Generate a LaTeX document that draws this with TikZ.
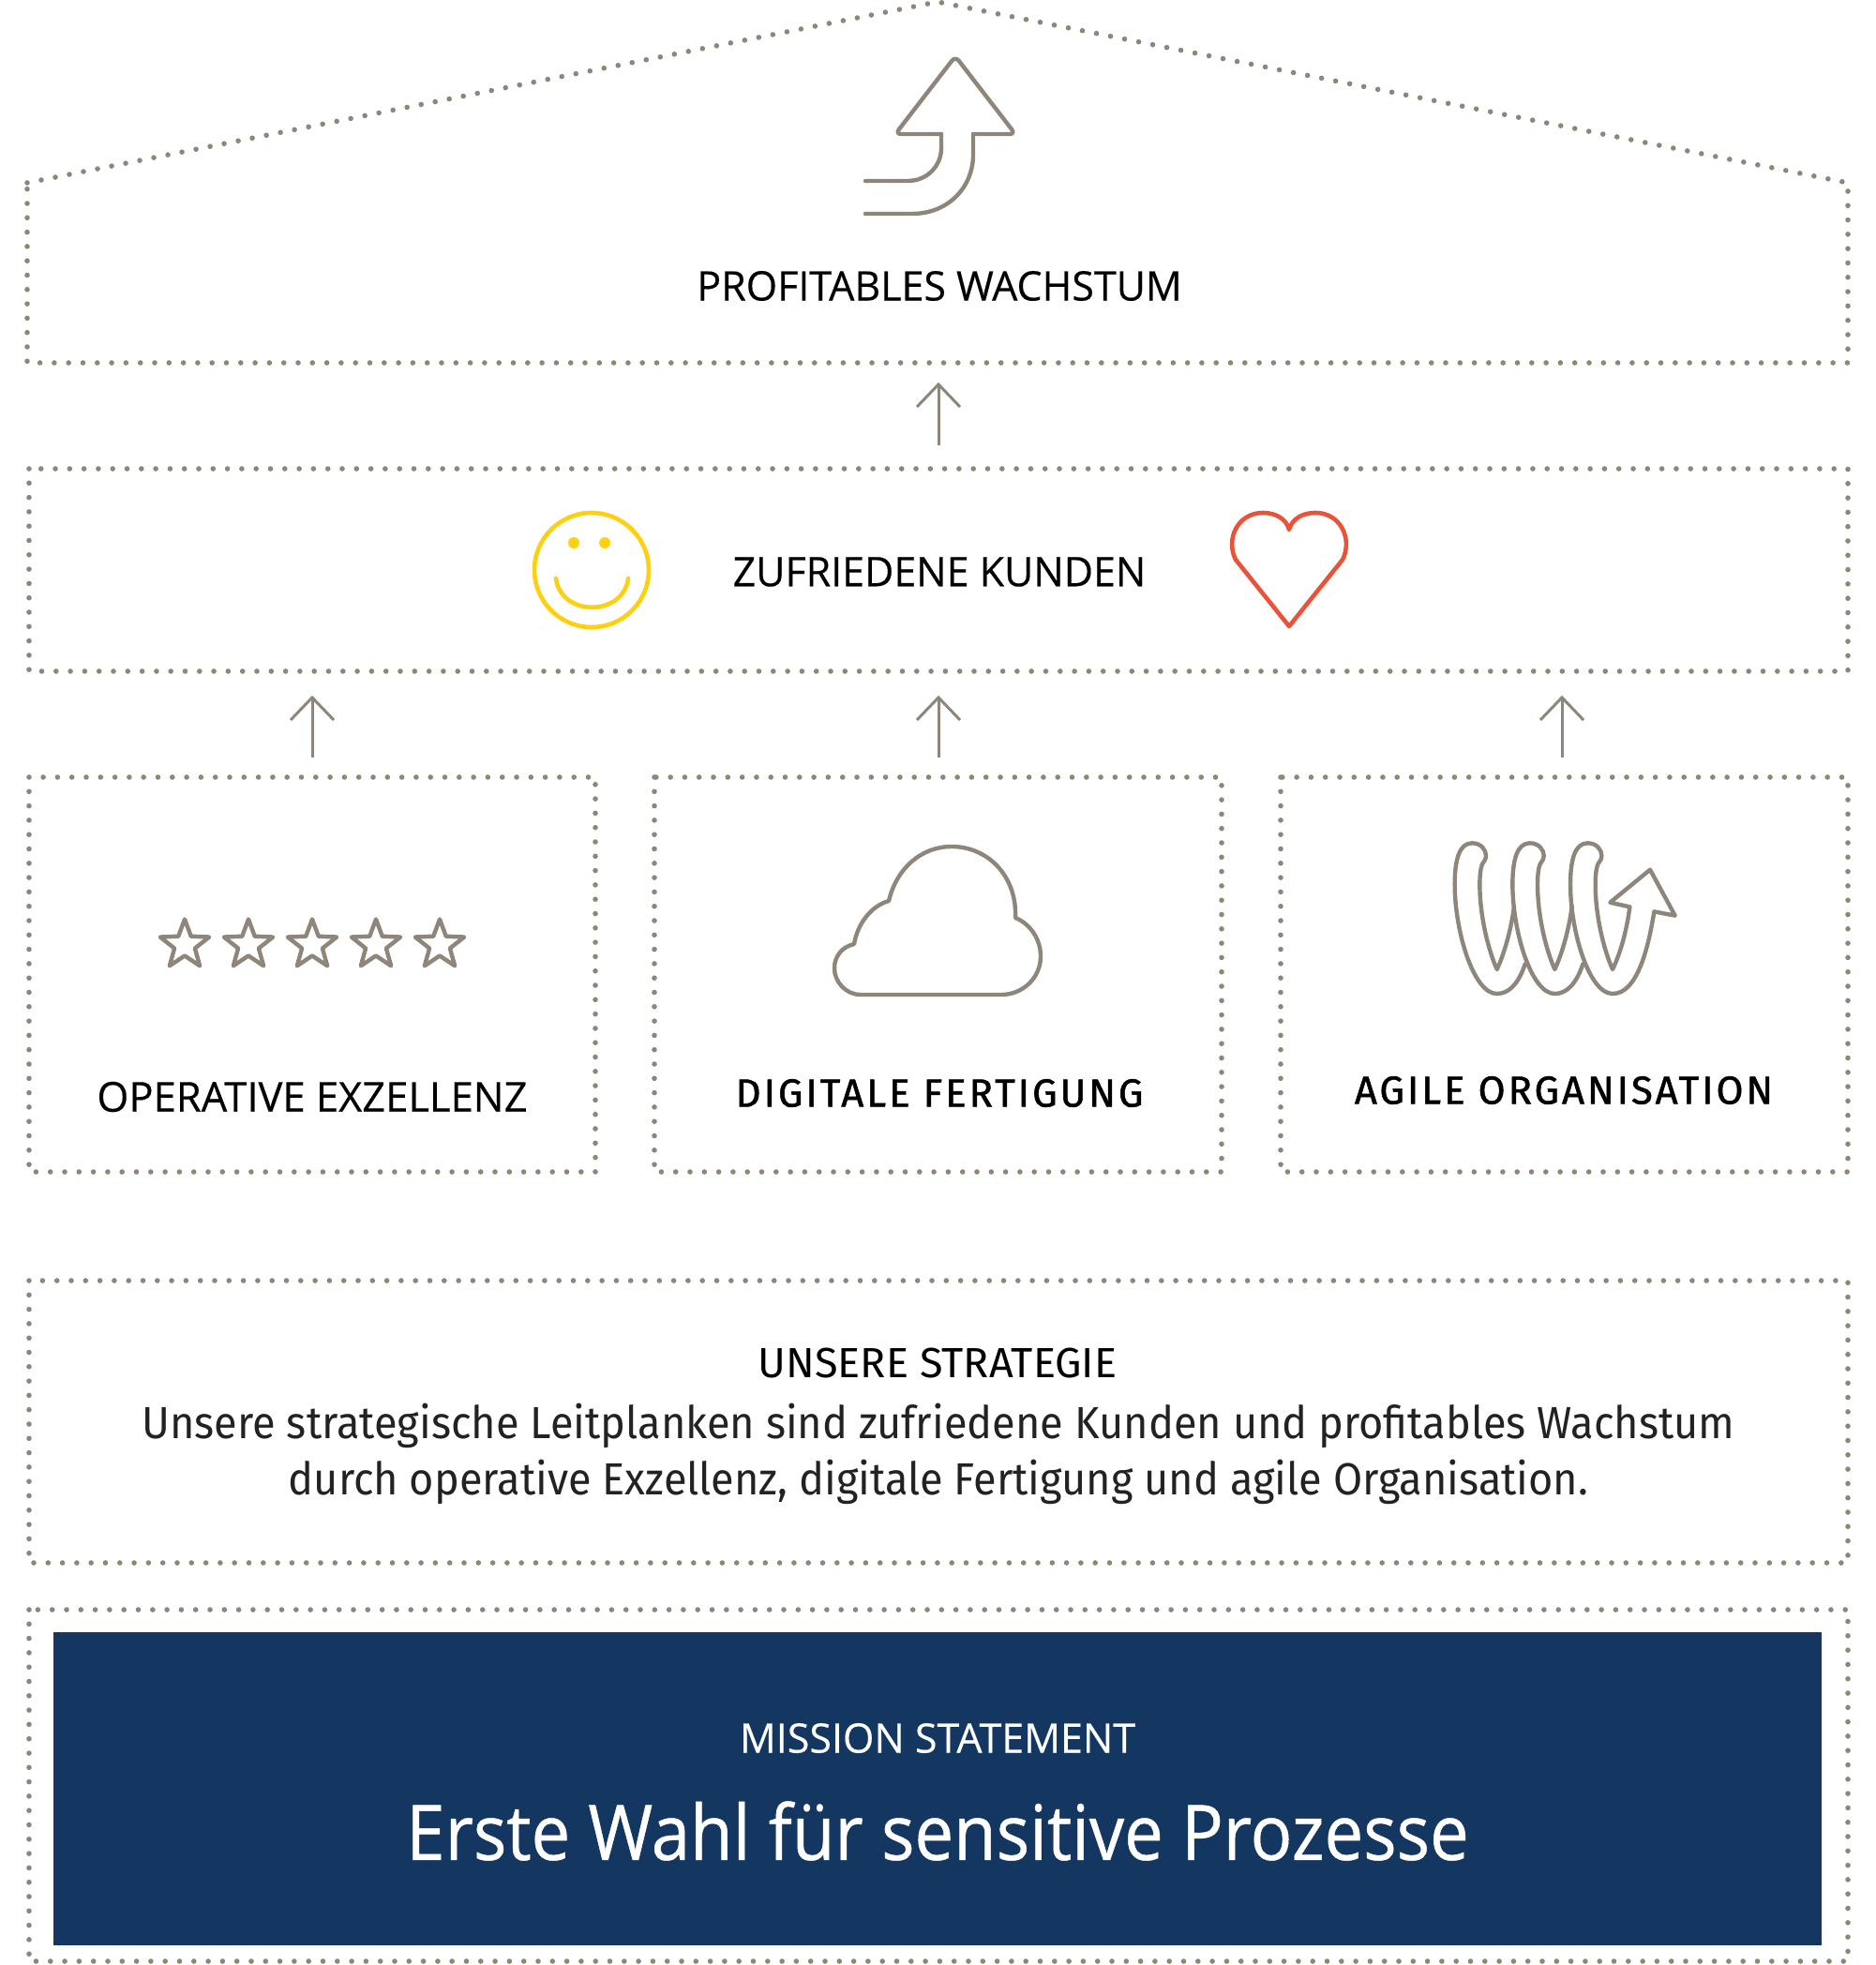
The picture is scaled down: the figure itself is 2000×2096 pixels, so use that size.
\documentclass[tikz,border=0pt]{standalone}
\usepackage{fontspec}
\usetikzlibrary{shapes.geometric,arrows.meta}
\setmainfont{Open Sans}
\newfontfamily\dinfont{Fira Sans}
\newfontfamily\dinheavy[FakeBold=1.2,LetterSpace=7]{Fira Sans}
\newfontfamily\dintext[FakeStretch=0.94]{Fira Sans}
\newfontfamily\capsfont[FakeStretch=0.99,FakeBold=0.3]{Open Sans}
\newfontfamily\titlefont[FakeStretch=0.91,FakeBold=0.6]{Open Sans}
\definecolor{taupe}{HTML}{8E857B}
\definecolor{navy}{HTML}{143761}
\definecolor{sunny}{HTML}{FFCF10}
\definecolor{coral}{HTML}{E8533A}
\definecolor{inktext}{HTML}{222222}
\tikzset{
  x=0.5pt,y=-0.5pt,
  dotted frame/.style={draw=taupe,line width=2.8pt,line cap=round,dash pattern=on 0pt off 7.65pt},
  iconline/.style={draw=taupe,line width=2.2pt,line join=round,line cap=round},
  uparrow/.style={draw=taupe,line width=1.5pt},
  label/.style={text=black,inner sep=0pt,anchor=center,font=\capsfont\fontsize{21.7}{26}\selectfont},
  boldlabel/.style={text=black,inner sep=0pt,anchor=center,font=\dinheavy\fontsize{21}{25}\selectfont},
  bodytext/.style={text=inktext,inner sep=0pt,anchor=center,font=\dintext\fontsize{24}{29}\selectfont},
  starmark/.style={iconline,star,star points=5,star point ratio=2.4,minimum size=27.5pt,inner sep=0pt}
}
\begin{document}
\begin{tikzpicture}
\useasboundingbox (0,0) rectangle (2000,2096);
% frames
\coordinate (rl) at (29,195); \coordinate (ra) at (1000,2); \coordinate (rr) at (1971,195);
\coordinate (rbr) at (1971,387); \coordinate (rbl) at (29,387);
\draw[dotted frame] (rl)--(ra)--(rr)--(rbr)--(rbl)--cycle;
\draw[dotted frame] (31,500) rectangle (1971,716);
\draw[dotted frame] (31,829) rectangle (635,1250);
\draw[dotted frame] (698,829) rectangle (1303,1250);
\draw[dotted frame] (1366,829) rectangle (1971,1250);
\draw[dotted frame] (31,1366) rectangle (1971,1667);
\draw[dotted frame] (31,1717) rectangle (1971,2092);
\fill[navy] (57,1741) rectangle (1943,2075);
% arrows
\foreach \n/\x/\a/\b in {u/1001/475/410,l/333/808/744,m/1001/808/744,r/1666/808/744}{
  \coordinate (s\n) at (\x,\a); \coordinate (e\n) at (\x,\b);
  \draw[uparrow] (s\n)--(e\n);
  \draw[uparrow] (\x-23,\b+24)--(e\n)--(\x+23,\b+24);
}
% growth arrow
\draw[iconline,rounded corners=3pt] (1004,143)--(955,143)--(1019,60)--(1083,143)--(1038,143);
\draw[iconline] (923,193)--(968,193) .. controls (989,193) and (1004,177) .. (1004,158)--(1004,143);
\draw[iconline] (923,228)--(973,228) .. controls (1011,228) and (1038,200) .. (1038,165)--(1038,143);
% smiley
\draw[draw=sunny,line width=2.3pt] (631,608) circle (61);
\fill[sunny] (612,579) circle (6) (645,579) circle (6);
\draw[draw=sunny,line width=2.3pt,line cap=round] (593,617) .. controls (598,658) and (665,658) .. (670,617);
% heart
\draw[draw=coral,line width=2.3pt,line join=round]
 (1375,668) -- (1318,597) .. controls (1307,575) and (1320,547) .. (1347,547)
 .. controls (1360,547) and (1372,553) .. (1375,565)
 .. controls (1378,553) and (1390,547) .. (1403,547)
 .. controls (1430,547) and (1443,575) .. (1432,597) -- cycle;
% stars
\foreach \i/\x in {1/197,2/265,3/333,4/401,5/469}{
  \node[starmark] (star\i) at (\x,1008) {};
}
% cloud
\draw[iconline] (918,1061) .. controls (902,1061) and (890,1047) .. (890,1033)
 .. controls (890,1020) and (898,1010) .. (911,1007)
 .. controls (915,984) and (930,966) .. (948,961)
 .. controls (956,927) and (982,903) .. (1015,903)
 .. controls (1054,903) and (1085,935) .. (1083,979)
 .. controls (1098,985) and (1110,1001) .. (1110,1020)
 .. controls (1110,1043) and (1091,1061) .. (1068,1061) -- cycle;
% spring
\begin{scope}[shift={(1500,860)},x=0.16667pt,y=-0.16667pt]
\foreach \d in {0,185}{
 \draw[iconline] (380+\d,505) .. controls (360+\d,565) and (330+\d,600) .. (290+\d,600)
  .. controls (215+\d,600) and (155+\d,400) .. (155+\d,250)
  .. controls (155+\d,170) and (170+\d,118) .. (210+\d,118)
  .. controls (240+\d,118) and (255+\d,140) .. (255+\d,158)
  .. controls (255+\d,170) and (248+\d,178) .. (243+\d,185)
  .. controls (237+\d,200) and (235+\d,225) .. (235+\d,250)
  .. controls (235+\d,350) and (262+\d,460) .. (290+\d,522)
  .. controls (310+\d,480) and (335+\d,400) .. (345+\d,320);
}
 \draw[iconline] (660,600)
  .. controls (585,600) and (525,400) .. (525,250)
  .. controls (525,170) and (540,118) .. (580,118)
  .. controls (610,118) and (625,140) .. (625,158)
  .. controls (625,170) and (618,178) .. (613,185)
  .. controls (607,200) and (605,225) .. (605,250)
  .. controls (605,350) and (632,460) .. (660,522)
  .. controls (685,470) and (705,400) .. (715,322)
  -- (652,308) -- (780,203) -- (860,350) -- (793,337)
  .. controls (775,450) and (740,600) .. (660,600) -- cycle;
\end{scope}
% text
\node[label] (t1) at (1002,305) {PROFITABLES WACHSTUM};
\node[label] (t2) at (1002,610) {ZUFRIEDENE KUNDEN};
\node[label,font=\capsfont\fontsize{22}{26}\selectfont] (t3) at (333,1170) {OPERATIVE EXZELLENZ};
\node[boldlabel] (t4) at (1002,1166) {DIGITALE FERTIGUNG};
\node[boldlabel] (t5) at (1668,1163) {AGILE ORGANISATION};
\node[bodytext,text=black,font=\dinfont\fontsize{22.5}{27}\selectfont] (t6) at (1000,1454) {UNSERE STRATEGIE};
\node[bodytext] (t7) at (1001,1521) {Unsere strategische Leitplanken sind zufriedene Kunden und profitables Wachstum};
\node[bodytext] (t8) at (1001,1581) {durch operative Exzellenz, digitale Fertigung und agile Organisation.};
\node[label,text=white] (t9) at (1000,1854) {MISSION STATEMENT};
\node[label,text=white,font=\titlefont\fontsize{40.8}{48}\selectfont] (t10) at (1000,1953) {Erste Wahl für sensitive Prozesse};
\end{tikzpicture}
\end{document}
